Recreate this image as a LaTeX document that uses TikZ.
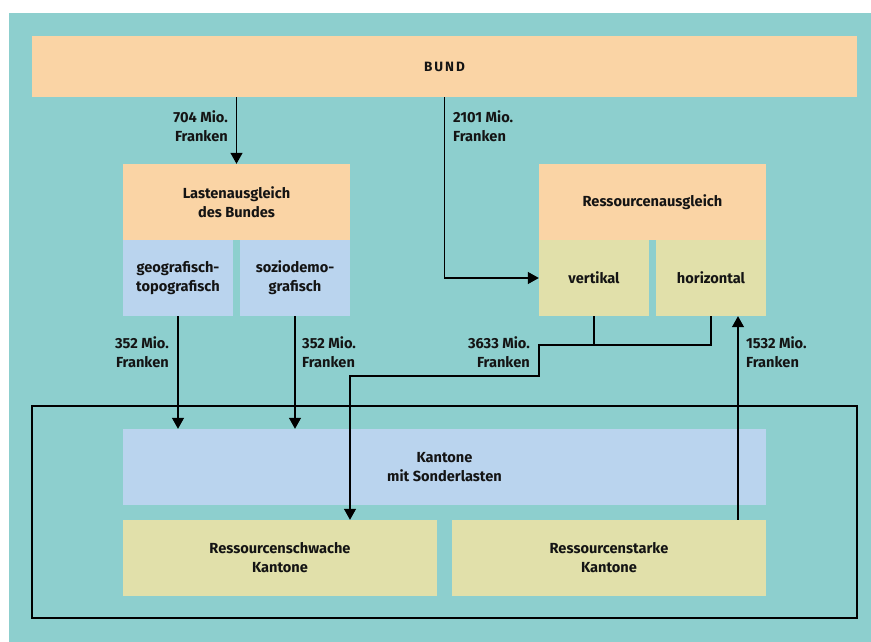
\documentclass[tikz,border=0pt]{standalone}
\usepackage{fontspec}
\setmainfont{Fira Sans}
\usetikzlibrary{arrows.meta, positioning, calc}
\definecolor{bgteal}{HTML}{8DCFCE}
\definecolor{cPeach}{HTML}{FAD4A5}
\definecolor{cBlue}{HTML}{BAD4EE}
\definecolor{cOlive}{HTML}{E1E0AA}
\definecolor{txt}{HTML}{141414}

\begin{document}
\begin{tikzpicture}[x=1pt, y=-1pt, font=\fontsize{14.6}{19}\selectfont\bfseries, text=txt,
  panel/.style={fill=#1, minimum height=76pt, inner sep=0pt, align=center},
  arr/.style={line width=1.2pt, -{Triangle[length=11pt, width=12pt]}},
  link/.style={line width=1.2pt},
  amount/.style={align=#1, inner sep=0pt}]
  \useasboundingbox (0,0) rectangle (871,642);
  \fill[white] (0,0) rectangle (871,642);
  \fill[bgteal] (9,13) rectangle (871,642);

  % upper level
  \node[panel=cPeach, minimum width=825pt, minimum height=61pt] (bund) at (444.5,66.5)
    {\fontsize{13.5}{16}\selectfont\addfontfeature{LetterSpace=15}BUND};
  \node[panel=cPeach, minimum width=227pt] (lasten) at (236.5,202) {Lastenausgleich\\des Bundes};
  \node[panel=cBlue, minimum width=110pt] (geo) at (178,278) {geografisch-\\topografisch};
  \node[panel=cBlue, minimum width=110pt] (sozio) at (295,278) {soziodemo-\\grafisch};
  \node[panel=cPeach, minimum width=227pt] (ressaus) at (652.5,202) {Ressourcenausgleich};
  \node[panel=cOlive, minimum width=110pt] (vert) at (594,278) {vertikal};
  \node[panel=cOlive, minimum width=110pt] (horiz) at (711,278) {horizontal};

  % cantons
  \draw[link] (32,406) rectangle (857,618);
  \node[panel=cBlue, minimum width=643pt] (sonder) at (444.5,467) {Kantone\\mit Sonderlasten};
  \node[panel=cOlive, minimum width=314pt] (schwach) at (280,558) {Ressourcenschwache\\Kantone};
  \node[panel=cOlive, minimum width=314pt] (stark) at (609,558) {Ressourcenstarke\\Kantone};

  % flows
  \draw[arr] (lasten.north |- bund.south) -- (lasten.north);
  \draw[arr] (bund.south) |- (vert.west);
  \draw[arr] (geo.south) -- (geo.south |- sonder.north);
  \draw[arr] (sozio.south) -- (sozio.south |- sonder.north);
  \coordinate (split) at (539,345);
  \coordinate (bend) at (539,376);
  \coordinate (drop) at (350,376);
  \draw[link] (vert.south) -- (vert.south |- split);
  \draw[arr] (horiz.south) |- (split) -- (bend) -- (drop) -- (drop |- schwach.north);
  \coordinate (rise) at ([xshift=27pt]horiz.south);
  \draw[arr] (rise |- stark.north) -- (rise);

  \foreach \nm/\x/\y/\anc/\al/\amt in {lBund/228/126/east/right/704, lRes/453/126/west/left/2101,
    lGeo/169/352/east/right/352, lSozio/302/352/west/left/352,
    lVert/530/352/east/right/3633, lHoriz/746/352/west/left/1532}
    \node[amount=\al, anchor=\anc] (\nm) at (\x,\y) {\amt{} Mio.\\Franken};
\end{tikzpicture}
\end{document}
